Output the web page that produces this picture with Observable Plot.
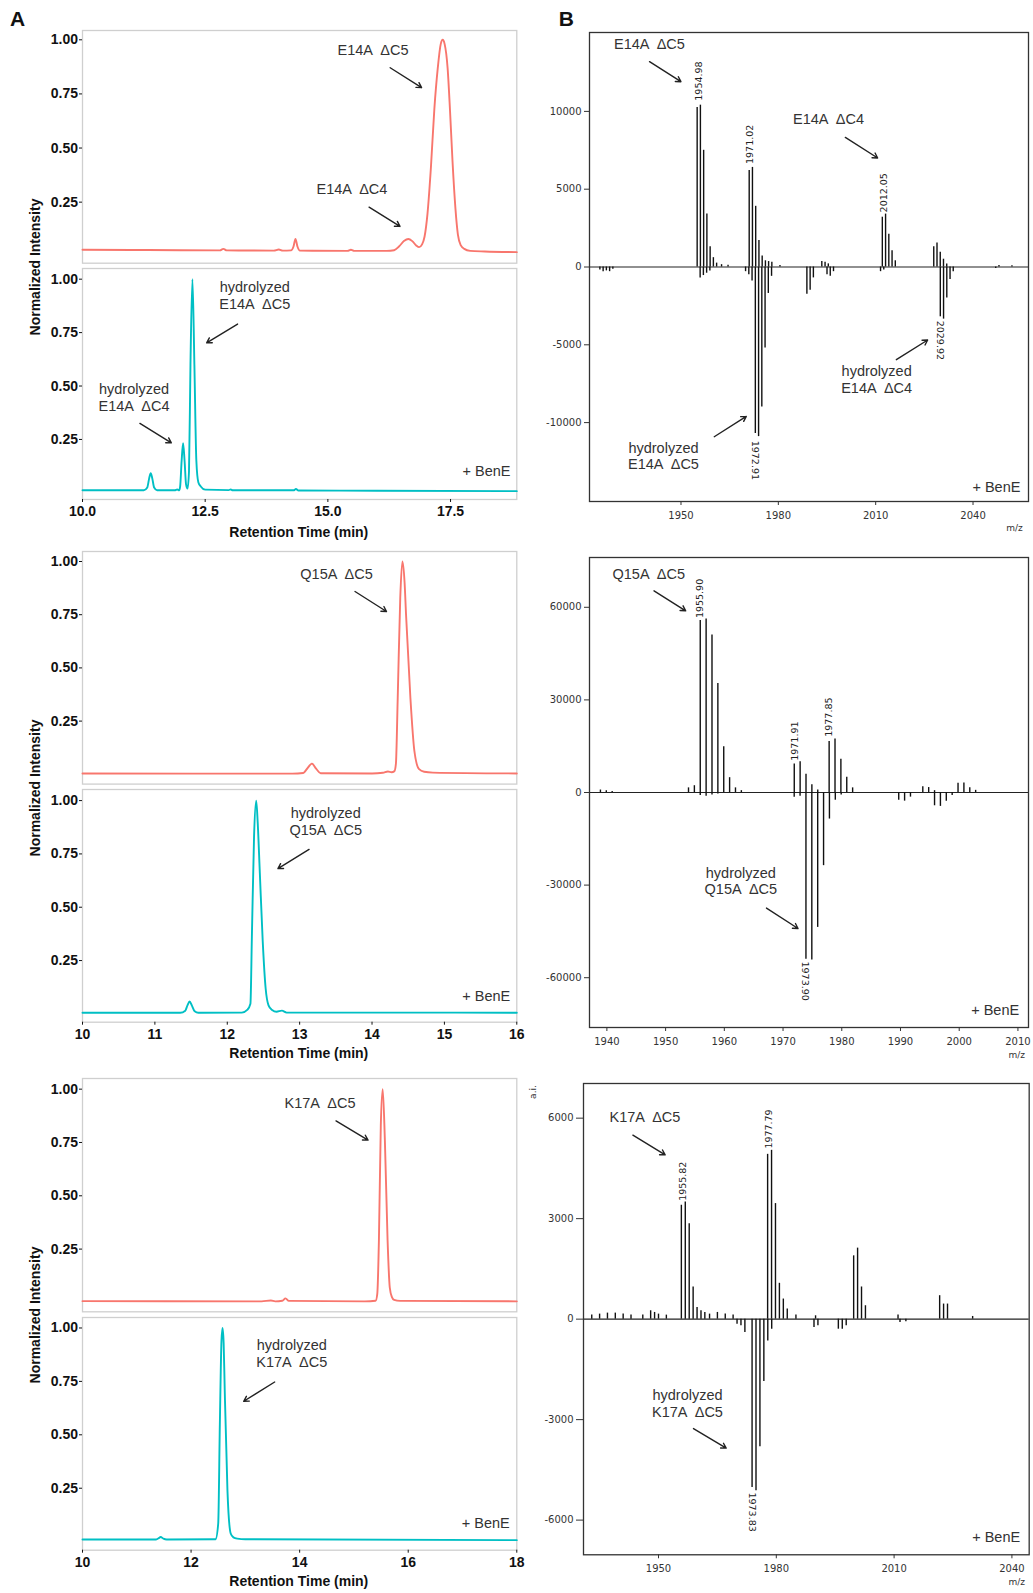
<!DOCTYPE html>
<html><head><meta charset="utf-8">
<script src="https://cdn.jsdelivr.net/npm/d3@7"></script>
<script src="https://cdn.jsdelivr.net/npm/@observablehq/plot@0.6"></script>
<style>
body{margin:0;background:#fff;}
#fig{position:relative;width:1033px;height:1593px;overflow:hidden;font-family:"Liberation Sans",Arial,Helvetica,sans-serif;background:#fff;}
.abs{position:absolute;white-space:nowrap;line-height:1;}
#fig svg{position:absolute;overflow:visible;max-width:none;}
#fig svg text{white-space:pre;}
</style></head><body><div id="fig"></div>
<script>
// ---------- Panel A: chromatograms (retention time [min], normalized intensity) ----------
const e14aTrace = [[10.0,0.030],[11.0,0.029],[12.0,0.028],[12.8,0.027],[12.87,0.034],[12.94,0.027],[13.9,0.026],[14.0,0.031],[14.08,0.026],[14.25,0.027],[14.30,0.045],[14.34,0.080],[14.38,0.045],[14.43,0.026],[15.4,0.025],[15.47,0.030],[15.54,0.025],[16.2,0.025],[16.35,0.028],[16.45,0.045],[16.55,0.070],[16.64,0.080],[16.72,0.070],[16.80,0.050],[16.86,0.042],[16.92,0.055],[16.97,0.090],[17.03,0.196],[17.10,0.41],[17.17,0.68],[17.24,0.87],[17.30,0.98],[17.34,1.0],[17.38,0.98],[17.44,0.87],[17.49,0.67],[17.54,0.44],[17.60,0.22],[17.65,0.10],[17.71,0.050],[17.78,0.034],[17.9,0.025],[18.2,0.022],[18.85,0.019]];
const e14aHydTrace = [[10.0,0.012],[11.25,0.012],[11.32,0.025],[11.36,0.07],[11.39,0.092],[11.42,0.07],[11.46,0.025],[11.52,0.012],[11.88,0.012],[11.93,0.016],[11.97,0.012],[11.99,0.03],[12.02,0.15],[12.05,0.232],[12.08,0.15],[12.11,0.04],[12.14,0.02],[12.17,0.10],[12.20,0.60],[12.24,1.0],[12.28,0.60],[12.32,0.15],[12.36,0.05],[12.41,0.03],[12.5,0.015],[12.98,0.013],[13.02,0.016],[13.06,0.012],[14.3,0.012],[14.35,0.018],[14.4,0.011],[16.0,0.010],[18.85,0.008]];
const q15aTrace = [[10.0,0.004],[12.9,0.003],[13.05,0.006],[13.10,0.025],[13.17,0.050],[13.23,0.025],[13.29,0.005],[14.0,0.004],[14.15,0.007],[14.22,0.013],[14.27,0.010],[14.31,0.015],[14.33,0.05],[14.355,0.36],[14.39,0.83],[14.42,1.0],[14.45,0.90],[14.47,0.75],[14.53,0.36],[14.585,0.11],[14.65,0.024],[14.72,0.012],[14.84,0.008],[16.0,0.004]];
const q15aHydTrace = [[10.0,0.005],[11.35,0.005],[11.42,0.015],[11.45,0.04],[11.48,0.058],[11.51,0.04],[11.55,0.012],[11.6,0.005],[12.2,0.006],[12.28,0.02],[12.32,0.047],[12.34,0.36],[12.37,0.83],[12.40,1.0],[12.42,0.90],[12.45,0.66],[12.49,0.34],[12.53,0.12],[12.57,0.04],[12.62,0.018],[12.68,0.010],[12.755,0.015],[12.82,0.006],[14.5,0.006],[16.0,0.005]];
const k17aTrace = [[10.0,0.006],[13.3,0.005],[13.47,0.009],[13.55,0.005],[13.68,0.008],[13.74,0.019],[13.80,0.007],[15.2,0.005],[15.40,0.008],[15.43,0.04],[15.46,0.29],[15.495,0.83],[15.53,1.0],[15.57,0.76],[15.62,0.29],[15.66,0.07],[15.70,0.025],[15.74,0.012],[15.85,0.007],[18.0,0.005]];
const k17aHydTrace = [[10.0,0.010],[11.35,0.010],[11.40,0.016],[11.44,0.022],[11.49,0.014],[11.55,0.010],[12.45,0.011],[12.50,0.085],[12.53,0.55],[12.56,0.94],[12.58,1.0],[12.60,0.93],[12.62,0.71],[12.67,0.24],[12.73,0.038],[12.78,0.020],[12.85,0.014],[13.0,0.011],[18.0,0.007]];

const chromYTicks = [0.25, 0.5, 0.75, 1];
const e14aTimeTicks = [10, 12.5, 15, 17.5];
const q15aTimeTicks = [10, 11, 12, 13, 14, 15, 16];
const k17aTimeTicks = [10, 12, 14, 16, 18];

// ---------- Panel B: MALDI spectra ([m/z, a.i.]; negative = + BenE mirror) ----------
const e14aMsPos = [[1954.98,10250],[1955.98,10400],[1956.98,7500],[1957.98,3400],[1958.98,1300],[1959.98,600],[1960.98,250],[1962.5,150],[1964.5,120],[1971.02,6200],[1972.02,6400],[1973.02,3900],[1974.02,1700],[1975.02,700],[1976.02,400],[1977.0,350],[1978.0,300],[1980.5,100],[1993.4,350],[1994.4,300],[1995.4,200],[2012.05,3200],[2013.05,3400],[2014.05,2100],[2015.05,1050],[2016.05,400],[2027.9,1300],[2028.9,1550],[2029.9,950],[2030.9,500],[2031.9,200],[2048,100],[2052,80]];
const e14aMsNeg = [[1925,-200],[1926,-300],[1927,-250],[1928,-300],[1929,-150],[1955.9,-700],[1956.9,-550],[1957.9,-400],[1958.9,-250],[1969.9,-300],[1970.9,-500],[1971.9,-900],[1972.91,-10700],[1973.91,-10900],[1974.91,-9000],[1975.91,-5200],[1976.91,-1700],[1977.91,-600],[1988.8,-1750],[1989.8,-1500],[1990.8,-700],[1995,-500],[1996,-600],[1997,-300],[2011.5,-300],[2012.5,-200],[2029.92,-3200],[2030.92,-3350],[2031.92,-2000],[2032.92,-800],[2033.9,-300],[2047,-100]];
const q15aMsPos = [[1938.9,800],[1939.9,600],[1940.9,300],[1953.9,1500],[1954.9,2200],[1955.90,55700],[1956.90,56200],[1957.90,51000],[1958.90,35300],[1959.90,14800],[1960.90,4800],[1961.90,1500],[1962.9,600],[1971.91,9200],[1972.91,10000],[1973.91,5900],[1974.91,2500],[1975.91,800],[1977.85,16500],[1978.85,17300],[1979.85,10800],[1980.85,4900],[1981.85,1500],[1993.8,1900],[1994.8,1600],[1995.8,600],[1999.8,3000],[2000.8,3100],[2001.8,1500],[2002.8,700]];
const q15aMsNeg = [[1955.9,-1000],[1956.9,-1200],[1957.9,-800],[1958.9,-500],[1971.9,-1500],[1972.9,-1200],[1973.90,-54000],[1974.90,-54300],[1975.90,-43700],[1976.90,-23700],[1977.90,-8600],[1978.90,-2500],[1979.9,-800],[1989.7,-2500],[1990.7,-2800],[1991.7,-1500],[1995.8,-4300],[1996.8,-4500],[1997.8,-2800],[1998.8,-1000]];
const k17aMsPos = [[1933,120],[1935,150],[1937,180],[1939,180],[1941,150],[1943,120],[1946,120],[1948,250],[1949,200],[1950,150],[1952,120],[1955.82,3400],[1956.82,3500],[1957.82,2850],[1958.82,960],[1959.82,350],[1960.82,250],[1961.8,200],[1963,150],[1965,200],[1967,150],[1969,120],[1977.79,4920],[1978.79,5040],[1979.79,3450],[1980.79,1070],[1981.79,600],[1982.79,300],[1985,120],[1990,100],[1999.7,1890],[2000.7,2120],[2001.7,960],[2002.7,400],[2011,120],[2021.6,700],[2022.6,450],[2023.6,450],[2030,80]];
const k17aMsNeg = [[1970,-150],[1971,-200],[1972,-400],[1973.83,-5030],[1974.83,-5120],[1975.83,-3810],[1976.83,-1860],[1977.83,-650],[1978.83,-300],[1989.6,-250],[1990.6,-200],[1995.8,-300],[1996.8,-300],[1997.8,-200],[2011.5,-100],[2013,-80]];

const e14aMzTicks = [1950, 1980, 2010, 2040];
const e14aAiTicks = [-10000, -5000, 0, 5000, 10000];
const q15aMzTicks = [1940, 1950, 1960, 1970, 1980, 1990, 2000, 2010];
const q15aAiTicks = [-60000, -30000, 0, 30000, 60000];
const k17aMzTicks = [1950, 1980, 2010, 2040];
const k17aAiTicks = [-6000, -3000, 0, 3000, 6000];

// ---------- annotations (data units) ----------
const a1rNotes = [{x:15.92,y:0.954,text:"E14A  ΔC5"},{x:15.49,y:0.312,text:"E14A  ΔC4"}];
const a1rArrows = [{x1:16.27,y1:0.871,x2:16.91,y2:0.779},{x1:15.84,y1:0.227,x2:16.47,y2:0.138}];
const a1cNotes = [{x:13.51,y:0.925,text:"hydrolyzed\nE14A  ΔC5"},{x:11.05,y:0.448,text:"hydrolyzed\nE14A  ΔC4"}];
const a1cArrows = [{x1:13.16,y1:0.790,x2:12.53,y2:0.702},{x1:11.17,y1:0.325,x2:11.81,y2:0.234}];
const a2rNotes = [{x:13.51,y:0.941,text:"Q15A  ΔC5"}];
const a2rArrows = [{x1:13.765,y1:0.859,x2:14.20,y2:0.765}];
const a2cNotes = [{x:13.36,y:0.904,text:"hydrolyzed\nQ15A  ΔC5"}];
const a2cArrows = [{x1:13.13,y1:0.771,x2:12.70,y2:0.681}];
const a3rNotes = [{x:14.375,y:0.937,text:"K17A  ΔC5"}];
const a3rArrows = [{x1:14.67,y1:0.851,x2:15.26,y2:0.761}];
const a3cNotes = [{x:13.855,y:0.882,text:"hydrolyzed\nK17A  ΔC5"}];
const a3cArrows = [{x1:13.54,y1:0.747,x2:12.97,y2:0.657}];

const b1Notes = [{x:1940.27,y:14332,text:"E14A  ΔC5"},{x:1995.47,y:9512,text:"E14A  ΔC4"},{x:1944.59,y:-12121,text:"hydrolyzed\nE14A  ΔC5"},{x:2010.3,y:-7198,text:"hydrolyzed\nE14A  ΔC4"}];
const b1Up = [{x:1955.63,y:10688,text:"1954.98"},{x:1971.14,y:6620,text:"1971.02"},{x:2012.46,y:3509,text:"2012.05"}];
const b1Down = [{x:1972.68,y:-11164,text:"1972.91"},{x:2029.73,y:-3451,text:"2029.92"}];
const b1Arrows = [{x1:1940.3,y1:13194,x2:1949.98,y2:11909},{x1:2000.65,y1:8329,x2:2010.61,y2:7005},{x1:1960.25,y1:-10907,x2:1970.12,y2:-9602},{x1:2016.37,y1:-5958,x2:2026.02,y2:-4692}];
const b2Notes = [{x:1947.13,y:70950,text:"Q15A  ΔC5"},{x:1962.81,y:-28574,text:"hydrolyzed\nQ15A  ΔC5"}];
const b2Up = [{x:1955.85,y:56500,text:"1955.90"},{x:1971.99,y:10270,text:"1971.91"},{x:1977.81,y:18045,text:"1977.85"}];
const b2Down = [{x:1973.80,y:-54750,text:"1973.90"}];
const b2Arrows = [{x1:1948.03,y1:65345,x2:1953.42,y2:58866},{x1:1967.18,y1:-37450,x2:1972.55,y2:-44060}];
const b3Notes = [{x:1946.54,y:6039,text:"K17A  ΔC5"},{x:1957.38,y:-2504,text:"hydrolyzed\nK17A  ΔC5"}];
const b3Up = [{x:1956.11,y:3531,text:"1955.82"},{x:1978.01,y:5092,text:"1977.79"}];
const b3Down = [{x:1973.78,y:-5176,text:"1973.83"}];
const b3Arrows = [{x1:1943.48,y1:5492,x2:1951.7,y2:4904},{x1:1958.91,y1:-3266,x2:1967.24,y2:-3851}];

const RED = "#F8766D", CYAN = "#00BFC4";
const SANS = "'Liberation Sans', Arial, Helvetica, sans-serif";
const MSFONT = "'DejaVu Sans', Verdana, sans-serif";
const fig = document.getElementById("fig");

function place(svg, left, top){ svg.style.left = left+"px"; svg.style.top = top+"px"; fig.appendChild(svg); }

function chrom(c){
  const [x0,y0,x1,y1] = c.frame;
  const mL=62, mR=4, mT=4, mB = c.xTicks ? 30 : 4;
  const marks = [
    Plot.frame({stroke:"#cfcfcf", strokeWidth:1.3}),
    Plot.axisY({ticks:chromYTicks, tickFormat:d3.format(".2f"), tickSize:3, tickPadding:1.5, fontWeight:"bold", fontSize:14, label:null}),
    Plot.line(c.trace, {x:d=>d[0], y:d=>d[1], stroke:c.color, strokeWidth:1.9, curve:"monotone-x"}),
    Plot.text(c.notes, {x:"x", y:"y", text:"text", fontSize:14.5, fill:"#333", lineHeight:1.15}),
    Plot.arrow(c.arrows, {x1:"x1", y1:"y1", x2:"x2", y2:"y2", stroke:"#222", strokeWidth:1.4, headLength:6})
  ];
  if (c.xTicks) marks.push(Plot.axisX({ticks:c.xTicks, tickFormat:c.xFmt, tickSize:3, tickPadding:4, fontWeight:"bold", fontSize:14, label:null}));
  if (c.bene) marks.push(Plot.text([c.bene], {x:"x", y:"y", text:()=>"+ BenE", textAnchor:"end", fontSize:14.5, fill:"#333"}));
  const svg = Plot.plot({
    width: x1-x0+mL+mR, height: y1-y0+mT+mB,
    marginLeft:mL, marginRight:mR, marginTop:mT, marginBottom:mB,
    style:{fontFamily:SANS, fontSize:"14px", background:"transparent", color:"#111"},
    x:{domain:c.xDomain, axis: c.xTicks ? undefined : null}, y:{domain:c.yDomain},
    marks
  });
  place(svg, x0-mL, y0-mT);
}

function ms(c){
  const [x0,y0,x1,y1] = c.frame;
  const mL=55, mR=3, mT=3, mB=28;
  const svg = Plot.plot({
    width: x1-x0+mL+mR, height: y1-y0+mT+mB,
    marginLeft:mL, marginRight:mR, marginTop:mT, marginBottom:mB,
    style:{fontFamily:MSFONT, fontSize:"10px", background:"transparent", color:"#333"},
    x:{domain:c.xDomain}, y:{domain:c.yDomain},
    marks:[
      Plot.axisX({ticks:c.xTicks, tickFormat:d=>String(d), tickSize:4, tickPadding:6, label:null}),
      Plot.axisY({ticks:c.yTicks, tickFormat:d=>String(d), tickSize:c.yTickSize, tickPadding:3, label:null}),
      Plot.ruleY([0], {stroke:"#222", strokeWidth:1.2}),
      Plot.ruleX(c.pos, {x:d=>d[0], y1:0, y2:d=>d[1], stroke:"#111", strokeWidth:1.4}),
      Plot.ruleX(c.neg, {x:d=>d[0], y1:0, y2:d=>d[1], stroke:"#111", strokeWidth:1.4}),
      Plot.text(c.up, {x:"x", y:"y", text:"text", rotate:-90, textAnchor:"start", fontSize:9.5, fill:"#222"}),
      Plot.text(c.down, {x:"x", y:"y", text:"text", rotate:90, textAnchor:"start", fontSize:9.5, fill:"#222"}),
      Plot.text(c.notes, {x:"x", y:"y", text:"text", fontFamily:SANS, fontSize:14.5, fill:"#333", lineHeight:1.15}),
      Plot.text([c.bene], {x:"x", y:"y", text:()=>"+ BenE", textAnchor:"end", fontFamily:SANS, fontSize:14.5, fill:"#333"}),
      Plot.arrow(c.arrows, {x1:"x1", y1:"y1", x2:"x2", y2:"y2", stroke:"#222", strokeWidth:1.4, headLength:6}),
      Plot.frame({stroke:"#333", strokeWidth:1.3})
    ]
  });
  place(svg, x0-mL, y0-mT);
}

// ----- A panels -----
chrom({frame:[81.7,30,516,262.7], xDomain:[10,18.85], yDomain:[-0.032,1.043], trace:e14aTrace, color:RED, notes:a1rNotes, arrows:a1rArrows});
chrom({frame:[81.7,268.3,516,499.3], xDomain:[10,18.85], yDomain:[-0.031,1.050], trace:e14aHydTrace, color:CYAN, notes:a1cNotes, arrows:a1cArrows, xTicks:e14aTimeTicks, xFmt:d3.format(".1f"), bene:{x:18.72,y:0.099}});
chrom({frame:[81.7,550.7,516,783.3], xDomain:[10,16], yDomain:[-0.046,1.047], trace:q15aTrace, color:RED, notes:a2rNotes, arrows:a2rArrows});
chrom({frame:[81.7,789,516,1021.7], xDomain:[10,16], yDomain:[-0.039,1.052], trace:q15aHydTrace, color:CYAN, notes:a2cNotes, arrows:a2cArrows, xTicks:q15aTimeTicks, xFmt:d3.format("d"), bene:{x:15.91,y:0.081}});
chrom({frame:[81.7,1077.7,516,1311], xDomain:[10,18], yDomain:[-0.044,1.050], trace:k17aTrace, color:RED, notes:a3rNotes, arrows:a3rArrows});
chrom({frame:[81.7,1317.3,516,1550], xDomain:[10,18], yDomain:[-0.040,1.049], trace:k17aHydTrace, color:CYAN, notes:a3cNotes, arrows:a3cArrows, xTicks:k17aTimeTicks, xFmt:d3.format("d"), bene:{x:17.87,y:0.0875}});

// ----- B panels -----
ms({frame:[589.3,31.7,1028.3,500.7], xDomain:[1921.8,2057.1], yDomain:[-15070,15070], xTicks:e14aMzTicks, yTicks:e14aAiTicks, yTickSize:5, pos:e14aMsPos, neg:e14aMsNeg, up:b1Up, down:b1Down, notes:b1Notes, arrows:b1Arrows, bene:{x:2054.6,y:-14165}});
ms({frame:[589.3,556.7,1028.3,1026.7], xDomain:[1937.04,2011.8], yDomain:[-76130,76130], xTicks:q15aMzTicks, yTicks:q15aAiTicks, yTickSize:5, pos:q15aMsPos, neg:q15aMsNeg, up:b2Up, down:b2Down, notes:b2Notes, arrows:b2Arrows, bene:{x:2010.21,y:-70723}});
ms({frame:[583.3,1082.7,1029,1554], xDomain:[1930.9,2044.4], yDomain:[-7035,7035], xTicks:k17aMzTicks, yTicks:k17aAiTicks, yTickSize:7, pos:k17aMsPos, neg:k17aMsNeg, up:b3Up, down:b3Down, notes:b3Notes, arrows:b3Arrows, bene:{x:2042.1,y:-6519}});

// ----- HTML titles -----
function lab(text, cx, cy, o){
  const d = document.createElement("div");
  d.className = "abs"; d.textContent = text;
  Object.assign(d.style, {left:cx+"px", top:cy+"px", fontSize:(o.size||14)+"px", fontWeight:o.weight||"normal",
    fontFamily:o.font||SANS, color:o.color||"#111",
    transform:`translate(-50%,-50%)${o.rot?` rotate(${o.rot}deg)`:""}`});
  fig.appendChild(d);
}
lab("A", 17.5, 17.5, {size:21, weight:"bold"});
lab("B", 566.3, 17.5, {size:21, weight:"bold"});
[266.5, 788, 1314.5].forEach(y => lab("Normalized Intensity", 35, y, {size:14, weight:"bold", rot:-90}));
[531.7, 1052.7, 1581].forEach(y => lab("Retention Time (min)", 298.8, y, {size:14, weight:"bold"}));
[[1014.5,528.3],[1016.7,1055],[1016.7,1581.7]].forEach(([x,y]) => lab("m/z", x, y, {size:9, font:MSFONT, color:"#333"}));
lab("a.i.", 533.3, 1091.7, {size:9, font:MSFONT, color:"#333", rot:-90});
</script></body></html>
